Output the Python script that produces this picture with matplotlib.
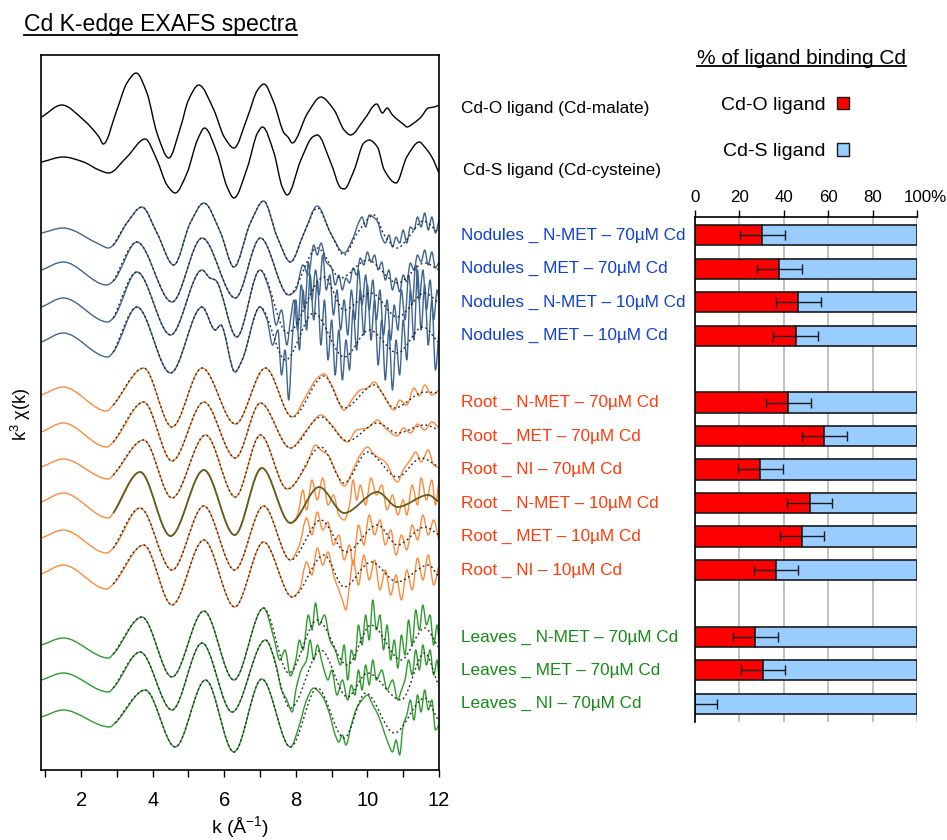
import numpy as np
import matplotlib
matplotlib.use("Agg")
import matplotlib.pyplot as plt
import matplotlib.transforms as mtransforms
from matplotlib.path import Path
from matplotlib.patches import PathPatch, Patch
from matplotlib.lines import Line2D

plt.rcParams['font.family'] = ['Liberation Sans', 'DejaVu Sans']
plt.rcParams['mathtext.fontset'] = 'custom'
plt.rcParams['mathtext.rm'] = 'Liberation Sans'

# ---------------- EXAFS spectra (k, k^3 chi(k) in a.u., relative to each baseline) -------------
cdo_k = [0.9, 1.46, 2.07, 2.5, 2.62, 3.0, 3.28, 3.54, 3.84, 4.12, 4.45, 4.78, 5.0, 5.29, 5.71, 6.0, 6.27, 6.65,
         6.93, 7.11, 7.39, 7.67, 7.78, 7.9, 8.33, 8.7, 9.07, 9.35, 9.53, 9.9, 10.26, 10.42, 10.55, 10.7, 11.03,
         11.1, 11.3, 11.5, 11.7, 11.87, 12.0]
cdo_v = [0, 12, -3, -20, -27, 7, 34, 44, 24, -16, -41, -10, 17, 32, 7, -20, -31, 0, 27, 33, 14, -16, -20, -26,
         4, 20, 7, -13, -18, -3, 13, 4, 9, 2, -8, -10, -6, 0, 9, 10, 12]
cds_k = [0.9, 1.5, 2.07, 2.5, 2.77, 3.28, 3.79, 4.12, 4.4, 4.63, 4.96, 5.25, 5.45, 5.8, 6.08, 6.27, 6.65, 6.93,
         7.07, 7.39, 7.62, 7.76, 8.14, 8.47, 8.6, 8.98, 9.26, 9.35, 9.63, 9.9, 10.05, 10.28, 10.47, 10.8, 11.1,
         11.45, 11.6, 11.8, 12.0]
cds_v = [0, 5, 0, -8, -11, 5, 23, 2, -23, -31, -11, 22, 34, 9, -25, -36, -5, 29, 35, 9, -25, -33, 2, 25, 27,
         -1, -26, -27, -8, 19, 22, 15, -8, -21, 5, 20, 15, 5, -11]

# Nodules
nod1_k = [0.9, 1.5, 2.44, 2.77, 2.9, 3.28, 3.7, 4.12, 4.59, 5.05, 5.43, 5.9, 6.27, 6.73, 7.1, 7.48, 7.85]
nod1_v = [0, 5, -10, -15, -12, 10, 26, 0, -32, 10, 30, 0, -34, 10, 32, -4, -29]
nod1_fit_k = [8.23, 8.6, 8.97, 9.35, 9.72, 10.19, 10.47, 10.84, 11.2, 11.55, 12.0]
nod1_fit_v = [0, 25, 0, -22, 0, 18, -2, -15, -2, 12, 0]
nod1_dat_k = [8.23, 8.6, 8.97, 9.35, 9.6, 9.75, 9.85, 9.95, 10.05, 10.2, 10.3, 10.4, 10.5, 10.6, 10.7, 10.8,
              10.9, 11.0, 11.1, 11.2, 11.3, 11.4, 11.5, 11.6, 11.7, 11.8, 11.9, 12.0]
nod1_dat_v = [0, 27, 0, -20, -5, 10, 16, 6, 18, 15, 10, -4, -10, -2, -14, -4, -10, 3, -10, 6, 3, 16, 6, 20, 3,
              16, 0, 13]

nod2_k = [0.9, 1.5, 2.72, 2.9, 3.56, 4.54, 5.38, 6.31, 7.01, 7.8]
nod2_v = [0, 8, -15, -11, 28, -32, 32, -28, 32, -25]
nod2_fit_k = [8.6, 9.25, 10.0, 10.84, 11.6, 12.0]
nod2_fit_v = [22, -8, 10, -13, 7, 0]
nod2_dat_k = [8.0, 8.2, 8.35, 8.5, 8.6, 8.7, 8.85, 9.0, 9.1, 9.2, 9.3, 9.4, 9.5, 9.6, 9.7, 9.8, 9.9, 10.0,
              10.1, 10.2, 10.3, 10.4, 10.5, 10.6, 10.7, 10.8, 10.9, 11.0, 11.1, 11.2, 11.3, 11.4, 11.5, 11.6,
              11.7, 11.8, 11.9, 12.0]
nod2_dat_v = [-20, 5, -5, 25, 15, 27, 8, 2, -15, -5, -20, -8, -13, 2, -5, 12, 5, 18, 8, 15, 0, 8, -10, 0,
              -20, -8, -22, -5, -12, 7, 0, 15, 8, 20, 5, 18, 2, 8]

nod3_k = [0.9, 1.5, 2.75, 2.9, 3.56, 4.5, 5.38, 5.6, 5.75, 6.35, 7.0]
nod3_v = [0, 9, -15, -11, 35, -28, 37, 29, 27, -30, 37]
nod3_fit_k = [7.76, 8.79, 9.35, 10.1, 10.84, 11.6, 12.0]
nod3_fit_v = [-26, 30, -3, 14, -10, 14, 4]
nod3_dat_k = [7.3, 7.45, 7.6, 7.75, 7.85, 7.95, 8.05, 8.15, 8.25, 8.35, 8.45, 8.55, 8.65, 8.75, 8.85, 8.95,
              9.05, 9.15, 9.25, 9.35, 9.45, 9.55, 9.65, 9.75, 9.85, 9.95, 10.05, 10.15, 10.25, 10.35, 10.45,
              10.55, 10.65, 10.75, 10.85, 10.95, 11.05, 11.15, 11.25, 11.35, 11.45, 11.55, 11.65, 11.75,
              11.85, 11.95, 12.0]
nod3_dat_v = [12, -18, -3, -38, -13, 7, -23, 22, -3, 45, 7, 37, 12, 52, 17, 32, -8, 17, -23, 7, -28, 17,
              -13, 37, 2, 32, -3, 27, -13, 17, -28, 7, -33, 2, -23, 17, -13, 32, 2, 42, 7, 37, -3, 27, -13,
              17, 7]

nod4_k = [0.9, 1.5, 2.75, 2.9, 3.56, 4.5, 5.38, 5.75, 5.9, 6.3, 6.5, 7.0]
nod4_v = [0, 9, -15, -10, 35, -31, 35, 12, 17, -30, -18, 35]
nod4_fit_k = [7.71, 8.5, 9.35, 10.05, 10.84, 11.55, 12.0]
nod4_fit_v = [-18, 29, -15, 12, -11, 15, -1]
nod4_dat_k = [7.2, 7.35, 7.5, 7.6, 7.7, 7.8, 7.9, 8.0, 8.1, 8.2, 8.3, 8.4, 8.5, 8.6, 8.7, 8.8, 8.9, 9.0,
              9.1, 9.2, 9.3, 9.4, 9.5, 9.6, 9.7, 9.8, 9.9, 10.0, 10.1, 10.2, 10.3, 10.4, 10.5, 10.6, 10.7,
              10.8, 10.9, 11.0, 11.1, 11.2, 11.3, 11.4, 11.5, 11.6, 11.7, 11.8, 11.9, 12.0]
nod4_dat_v = [22, -3, 12, -33, -8, -58, 2, 42, -8, 52, 12, 67, 22, 62, -3, 42, -18, 22, -33, 12, -38, 2,
              -28, 32, -8, 52, 7, 57, 2, 42, -23, 22, -38, 12, -48, 2, -33, 22, -18, 52, 2, 72, 12, 57, -3,
              42, -28, 12]

# Roots
root1_k = [0.9, 1.5, 2.72, 2.9, 3.75, 4.54, 5.38, 6.31, 7.15, 7.9]
root1_v = [0, 8, -16, -10, 27, -32, 27, -29, 27, -22]
root1_fit_k = [8.79, 9.35, 10.19, 10.75, 11.6, 12.0]
root1_fit_v = [19, -13, 10, -13, 3, 2]
root1_dat_k = [8.3, 8.6, 8.79, 9.0, 9.35, 9.6, 9.8, 10.0, 10.19, 10.4, 10.75, 10.9, 11.1, 11.3, 11.45,
               11.6, 11.8, 12.0]
root1_dat_v = [0, 17, 21, 10, -15, -3, 5, 7, 13, 3, -15, -5, -10, 7, -1, 10, 0, 5]

root2_k = [0.9, 1.5, 2.72, 2.9, 3.75, 4.54, 5.43, 6.31, 7.01, 7.85]
root2_v = [0, 9, -15, -10, 30, -29, 30, -26, 29, -16]
root2_fit_k = [8.7, 9.44, 10.28, 10.84, 11.6, 12.0]
root2_fit_v = [15, -9, 9, -1, 7, 2]
root2_dat_k = [8.3, 8.7, 9.0, 9.44, 9.7, 10.0, 10.28, 10.5, 10.84, 11.0, 11.2, 11.4, 11.6, 11.8, 12.0]
root2_dat_v = [2, 17, 7, -10, 2, 4, 12, 4, -4, 4, -1, 8, 2, 10, 4]

root3_k = [0.9, 1.5, 2.77, 2.9, 3.75, 4.54, 5.48, 6.31, 7.01, 7.76]
root3_v = [0, 8, -12, -8, 27, -31, 32, -30, 32, -22]
root3_fit_k = [8.7, 9.35, 10.0, 10.84, 11.5, 12.0]
root3_fit_v = [20, -16, 15, -10, 9, 0]
root3_dat_k = [8.3, 8.55, 8.7, 8.9, 9.1, 9.35, 9.6, 9.8, 10.0, 10.2, 10.5, 10.84, 11.0, 11.2, 11.35, 11.5,
               11.7, 11.85, 12.0]
root3_dat_v = [2, 22, 17, 12, -3, -19, -3, 12, 20, 12, 5, -15, -3, 7, 15, 5, 17, 2, -1]

root4_k = [0.9, 1.5, 2.77, 2.9, 3.65, 4.5, 5.43, 6.29, 7.05, 7.85]
root4_v = [0, 9, -16, -11, 30, -34, 32, -33, 34, -21]
root4_fit_k = [8.65, 9.35, 10.28, 10.84, 11.7, 12.0]
root4_fit_v = [15, -11, 10, -5, 7, 0]
root4_dat_k = [8.05, 8.2, 8.3, 8.45, 8.6, 8.75, 8.9, 9.05, 9.2, 9.35, 9.5, 9.6, 9.7, 9.8, 9.95, 10.1,
               10.25, 10.4, 10.55, 10.7, 10.85, 11.0, 11.1, 11.25, 11.4, 11.5, 11.65, 11.8, 11.9, 12.0]
root4_dat_v = [-13, 12, -8, 22, 2, 24, -3, 7, -13, -18, -3, 22, 2, 17, -3, 24, 7, 17, -8, 7, -13, 2, -13,
               17, -3, 24, 2, 22, -3, 22]

root5_k = [0.9, 1.5, 2.72, 2.9, 3.65, 4.54, 5.43, 6.29, 7.1, 7.85]
root5_v = [0, 8, -15, -10, 30, -32, 32, -32, 32, -22]
root5_fit_k = [8.7, 9.4, 10.28, 10.84, 11.6, 12.0]
root5_fit_v = [18, -14, 13, -7, 11, 3]
root5_dat_k = [8.1, 8.3, 8.45, 8.6, 8.75, 8.9, 9.05, 9.2, 9.35, 9.5, 9.6, 9.75, 9.9, 10.05, 10.2, 10.35,
               10.5, 10.65, 10.8, 10.95, 11.1, 11.25, 11.4, 11.55, 11.7, 11.85, 12.0]
root5_dat_v = [-7, 20, 3, 26, 8, 16, -7, 3, -22, -7, -27, 13, -7, 23, 3, 18, -7, 8, -17, 3, -12, 13, -2,
               23, 3, 18, -2]

root6_k = [0.9, 1.5, 2.72, 2.9, 3.75, 4.54, 5.43, 6.29, 7.1, 7.9]
root6_v = [0, 9, -15, -10, 29, -31, 34, -33, 32, -23]
root6_fit_k = [8.79, 9.35, 10.1, 10.84, 11.7, 12.0]
root6_fit_v = [19, -13, 12, -8, 9, -3]
root6_dat_k = [8.1, 8.3, 8.45, 8.6, 8.75, 8.9, 9.05, 9.2, 9.3, 9.4, 9.5, 9.6, 9.75, 9.9, 10.05, 10.2,
               10.35, 10.5, 10.65, 10.8, 10.95, 11.1, 11.25, 11.4, 11.55, 11.7, 11.85, 12.0]
root6_dat_v = [-16, 12, -1, 26, 9, 22, -1, -16, -26, -36, -11, 14, -11, 19, -6, 14, -16, 4, -21, -1, -26,
               4, -16, 16, -6, 19, -11, 9]

# Leaves
leaf1_k = [0.9, 1.5, 2.77, 2.9, 3.7, 4.54, 5.43, 6.27, 7.1]
leaf1_v = [0, 7, -13, -9, 28, -32, 34, -35, 37]
leaf1_fit_k = [7.8, 8.6, 9.44, 10.1, 10.94, 11.6, 12.0]
leaf1_fit_v = [-28, 25, -20, 20, -15, 17, -3]
leaf1_dat_k = [7.4, 7.55, 7.7, 7.85, 8.0, 8.1, 8.2, 8.35, 8.45, 8.55, 8.65, 8.8, 8.95, 9.1, 9.25, 9.35,
               9.45, 9.55, 9.65, 9.75, 9.85, 9.95, 10.05, 10.15, 10.25, 10.35, 10.45, 10.55, 10.65, 10.75,
               10.85, 10.95, 11.05, 11.15, 11.25, 11.35, 11.45, 11.55, 11.65, 11.75, 11.85, 11.95, 12.0]
leaf1_dat_v = [5, -15, -5, -31, -15, 5, -5, 30, 15, 42, 20, 30, 5, -5, -20, 0, -35, -5, -15, 20, 0, 30, 5,
               45, 15, 30, -5, 20, -15, 5, -23, 10, -10, 25, 0, 35, 15, 40, 20, 30, 0, 20, 5]

leaf2_k = [0.9, 1.5, 2.77, 2.9, 3.65, 4.54, 5.38, 6.22, 7.15]
leaf2_v = [0, 7, -12, -8, 28, -30, 37, -32, 40]
leaf2_fit_k = [7.85, 8.7, 9.44, 10.0, 10.94, 11.6, 12.0]
leaf2_fit_v = [-28, 30, -17, 7, -20, 27, -7]
leaf2_dat_k = [7.45, 7.6, 7.75, 7.9, 8.0, 8.15, 8.3, 8.4, 8.5, 8.6, 8.75, 8.9, 9.0, 9.15, 9.3, 9.45, 9.55,
               9.65, 9.75, 9.85, 9.95, 10.05, 10.15, 10.25, 10.4, 10.55, 10.7, 10.85, 10.95, 11.05, 11.15,
               11.25, 11.35, 11.45, 11.55, 11.65, 11.75, 11.85, 11.95, 12.0]
leaf2_dat_v = [15, -10, -20, -32, -10, 10, 20, 40, 20, 35, 15, 0, 10, -15, 0, -20, -5, -15, 10, -10, 15,
               -5, 20, 0, 10, -10, 0, -20, -10, 0, 20, 5, 30, 10, 35, 15, 30, 5, 20, 0]

leaf3_k = [0.9, 1.5, 2.8, 2.95, 3.79, 4.63, 5.48, 6.27, 7.05, 7.85]
leaf3_v = [0, 7, -10, -6, 27, -30, 37, -35, 38, -30]
leaf3_fit_k = [8.6, 9.35, 9.95, 10.75, 11.6, 12.0]
leaf3_fit_v = [29, -21, 24, -16, 19, -5]
leaf3_dat_k = [8.1, 8.3, 8.5, 8.65, 8.8, 8.95, 9.1, 9.2, 9.3, 9.4, 9.55, 9.7, 9.85, 10.0, 10.15, 10.3,
               10.45, 10.6, 10.7, 10.8, 10.9, 11.0, 11.1, 11.2, 11.3, 11.4, 11.5, 11.6, 11.7, 11.8, 11.9, 12.0]
leaf3_dat_v = [-8, 17, 29, 25, 17, 2, -18, -25, -18, -28, -8, 9, 17, 22, 12, 2, -13, -28, -35, -23, -38,
               -8, 2, 17, -3, 22, 5, 27, 7, 17, -13, -8]

# vertical stacking offsets (a.u.)
ref_offsets = [-117, -162]
nod_offsets = [-233, -270, -307, -342]
root_offsets = [-395, -432, -467, -502, -538, -574]
leaf_offsets = [-645, -680, -717]

# ---------------- ligand percentages ----------------
bar_labels = ["Nodules _ N-MET – 70µM Cd", "Nodules _ MET – 70µM Cd", "Nodules _ N-MET – 10µM Cd",
              "Nodules _ MET – 10µM Cd", "",
              "Root _ N-MET – 70µM Cd", "Root _ MET – 70µM Cd", "Root _ NI – 70µM Cd",
              "Root _ N-MET – 10µM Cd", "Root _ MET – 10µM Cd", "Root _ NI – 10µM Cd", "",
              "Leaves _ N-MET – 70µM Cd", "Leaves _ MET – 70µM Cd", "Leaves _ NI – 70µM Cd"]
cdo_pct = [30.4, 38.0, 46.6, 45.3, None, 42.1, 58.3, 29.5, 51.6, 48.1, 36.4, None, 27.2, 30.5, 0.0]
cdo_err = [10, 10, 10, 10, None, 10, 10, 10, 10, 10, 10, None, 10, 10, 10]
pct_ticks = [0, 20, 40, 60, 80, 100]
pct_ticklabels = ["0", "20", "40", "60", "80", "100%"]

C_NOD_LINE, C_ROOT_LINE, C_LEAF_LINE = "#3D6590", "#FF8A3A", "#2E9B2E"
C_NOD_TXT, C_ROOT_TXT, C_LEAF_TXT = "#1040D0", "#FF3B0A", "#168A16"
C_RED, C_BLUE = "#FF0000", "#99CCFF"

W, H = 947, 840
fig = plt.figure(figsize=(W / 100, H / 100), dpi=100)


def fx(px):
    return px / W


def fy(py):
    return 1 - py / H


def smooth_path(xs, ys):
    """Smooth (shape-preserving Hermite) rendering of a polyline through the data points."""
    x = np.asarray(xs, float)
    y = np.asarray(ys, float)
    n = len(x)
    h = np.diff(x)
    d = np.diff(y) / h
    m = np.zeros(n)
    m[0], m[-1] = d[0], d[-1]
    for i in range(1, n - 1):
        if d[i - 1] * d[i] > 0:
            w1 = 2 * h[i] + h[i - 1]
            w2 = h[i] + 2 * h[i - 1]
            m[i] = (w1 + w2) / (w1 / d[i - 1] + w2 / d[i])
    verts = [(x[0], y[0])]
    codes = [Path.MOVETO]
    for i in range(n - 1):
        verts += [(x[i] + h[i] / 3, y[i] + m[i] * h[i] / 3),
                  (x[i + 1] - h[i] / 3, y[i + 1] - m[i + 1] * h[i] / 3),
                  (x[i + 1], y[i + 1])]
        codes += [Path.CURVE4] * 3
    return Path(verts, codes)


def draw_curve(ax, ks, vs, off, color, lw=1.0, ls='-', z=2):
    ys = np.asarray(vs, float) + off
    ax.add_patch(PathPatch(smooth_path(ks, ys), fill=False, edgecolor=color, lw=lw,
                           linestyle=ls, zorder=z, capstyle='butt', joinstyle='round'))


# ---------------- left panel ----------------
ax = fig.add_axes([fx(41), fy(770), fx(439) - fx(41), fy(55) - fy(770)])
ax.set_xlim(0.88, 12.0)
ax.set_ylim(-770, -55)

draw_curve(ax, cdo_k, cdo_v, ref_offsets[0], 'black', lw=1.0)
draw_curve(ax, cds_k, cds_v, ref_offsets[1], 'black', lw=1.0)

samples = [
    (nod1_k, nod1_v, nod1_fit_k, nod1_fit_v, nod1_dat_k, nod1_dat_v, nod_offsets[0], C_NOD_LINE, False),
    (nod2_k, nod2_v, nod2_fit_k, nod2_fit_v, nod2_dat_k, nod2_dat_v, nod_offsets[1], C_NOD_LINE, False),
    (nod3_k, nod3_v, nod3_fit_k, nod3_fit_v, nod3_dat_k, nod3_dat_v, nod_offsets[2], C_NOD_LINE, False),
    (nod4_k, nod4_v, nod4_fit_k, nod4_fit_v, nod4_dat_k, nod4_dat_v, nod_offsets[3], C_NOD_LINE, False),
    (root1_k, root1_v, root1_fit_k, root1_fit_v, root1_dat_k, root1_dat_v, root_offsets[0], C_ROOT_LINE, False),
    (root2_k, root2_v, root2_fit_k, root2_fit_v, root2_dat_k, root2_dat_v, root_offsets[1], C_ROOT_LINE, False),
    (root3_k, root3_v, root3_fit_k, root3_fit_v, root3_dat_k, root3_dat_v, root_offsets[2], C_ROOT_LINE, False),
    (root4_k, root4_v, root4_fit_k, root4_fit_v, root4_dat_k, root4_dat_v, root_offsets[3], C_ROOT_LINE, True),
    (root5_k, root5_v, root5_fit_k, root5_fit_v, root5_dat_k, root5_dat_v, root_offsets[4], C_ROOT_LINE, False),
    (root6_k, root6_v, root6_fit_k, root6_fit_v, root6_dat_k, root6_dat_v, root_offsets[5], C_ROOT_LINE, False),
    (leaf1_k, leaf1_v, leaf1_fit_k, leaf1_fit_v, leaf1_dat_k, leaf1_dat_v, leaf_offsets[0], C_LEAF_LINE, False),
    (leaf2_k, leaf2_v, leaf2_fit_k, leaf2_fit_v, leaf2_dat_k, leaf2_dat_v, leaf_offsets[1], C_LEAF_LINE, False),
    (leaf3_k, leaf3_v, leaf3_fit_k, leaf3_fit_v, leaf3_dat_k, leaf3_dat_v, leaf_offsets[2], C_LEAF_LINE, False),
]

for lk, lv, fk, fv, dk, dv, off, col, solid_fit in samples:
    # measured data (colored)
    draw_curve(ax, list(lk) + list(dk), list(lv) + list(dv), off, col, lw=1.0, z=2)
    # fit (from k ~ 2.9)
    sel = [i for i, kk in enumerate(lk) if kk >= 2.85]
    fit_k = [lk[i] for i in sel] + list(fk)
    fit_v = [lv[i] for i in sel] + list(fv)
    if solid_fit:
        draw_curve(ax, fit_k, fit_v, off, '#5E5E20', lw=1.3, z=3)
    else:
        draw_curve(ax, fit_k, fit_v, off, '#222222', lw=1.0, ls=(0, (1.3, 2.0)), z=3)

ax.set_xticks([2, 4, 6, 8, 10, 12])
ax.set_xticks([1, 3, 5, 7, 9, 11], minor=True)
ax.set_yticks([])
ax.tick_params(axis='x', which='both', direction='out', length=5, width=1.0, labelsize=14.5, pad=10)
for s in ax.spines.values():
    s.set_linewidth(1.2)
ax.set_xlabel('k (Å$^{\\mathregular{-1}}$)', fontsize=14)
ax.xaxis.set_label_coords(0.5, -0.062)
ax.set_ylabel('k$^{\\mathregular{3}}$ χ(k)', fontsize=13)
ax.yaxis.set_label_coords(-0.02, 0.497)

# reference labels
fig.text(fx(461), fy(108), "Cd-O ligand (Cd-malate)", fontsize=12.4, va='center', ha='left')
fig.text(fx(463), fy(170), "Cd-S ligand (Cd-cysteine)", fontsize=12.4, va='center', ha='left')

# ---------------- right panel ----------------
bx = fig.add_axes([fx(695), fy(722), fx(917) - fx(695), fy(217) - fy(722)])
pos = np.arange(len(bar_labels))
idx = [i for i, v in enumerate(cdo_pct) if v is not None]
red_vals = np.array([cdo_pct[i] for i in idx])
blue_vals = 100 - red_vals
bx.barh(pos[idx], red_vals, height=0.6, color=C_RED, edgecolor='#1a1a1a', linewidth=1.2, zorder=2)
bx.barh(pos[idx], blue_vals, left=red_vals, height=0.6, color=C_BLUE, edgecolor='#1a1a1a',
        linewidth=1.2, zorder=2)
bx.errorbar(red_vals, pos[idx], xerr=[cdo_err[i] for i in idx], fmt='none', ecolor='#1a1a1a',
            elinewidth=1.0, capsize=3.5, capthick=1.0, zorder=4)
bx.set_xlim(0, 100)
bx.set_ylim(len(bar_labels) - 0.46, -0.54)
bx.set_yticks([])
bx.xaxis.tick_top()
bx.set_xticks(pct_ticks)
bx.set_xticklabels(pct_ticklabels)
bx.tick_params(axis='x', direction='out', length=5, width=1.0, labelsize=12.2, pad=4)
last = bx.get_xticklabels()[-1]
last.set_transform(last.get_transform() + mtransforms.ScaledTranslation(6 / 72, 0, fig.dpi_scale_trans))
bx.grid(axis='x', color='#BDBDBD', linewidth=1.3, zorder=0)
bx.set_axisbelow(True)
bx.spines['right'].set_visible(False)
bx.spines['bottom'].set_visible(False)
bx.spines['top'].set_linewidth(1.2)
bx.spines['left'].set_linewidth(1.2)

ytr = bx.get_yaxis_transform()
label_x = (461 - 695) / (917 - 695)
for i, lab in enumerate(bar_labels):
    if not lab:
        continue
    col = C_NOD_TXT if lab.startswith("Nodules") else (C_ROOT_TXT if lab.startswith("Root") else C_LEAF_TXT)
    bx.text(label_x, pos[i], lab, transform=ytr, ha='left', va='center', fontsize=12.3, color=col,
            clip_on=False)

# legend
handles = [Patch(facecolor=C_RED, edgecolor='#1a1a1a', linewidth=1.0),
           Patch(facecolor=C_BLUE, edgecolor='#1a1a1a', linewidth=1.0)]
fig.legend(handles, ["Cd-O ligand", "Cd-S ligand"], loc='upper right', bbox_to_anchor=(fx(849), fy(97)),
           frameon=False, markerfirst=False, fontsize=14, handlelength=0.6, handleheight=0.6,
           handletextpad=0.6, labelspacing=1.5, borderaxespad=0, borderpad=0)

# titles (underlined)
t1 = fig.text(fx(24), fy(25), "Cd K-edge EXAFS spectra", fontsize=16.6, ha='left', va='center')
t2 = fig.text(fx(697), fy(58), "% of ligand binding Cd", fontsize=15, ha='left', va='center')
fig.canvas.draw()
r = fig.canvas.get_renderer()
for t in (t1, t2):
    bb = t.get_window_extent(r)
    yline = (bb.y0 + 1.5) / fig.bbox.height
    fig.add_artist(Line2D([bb.x0 / fig.bbox.width, bb.x1 / fig.bbox.width], [yline, yline],
                          transform=fig.transFigure, color='black', lw=1.3))

fig.savefig("out.png", dpi=100)
